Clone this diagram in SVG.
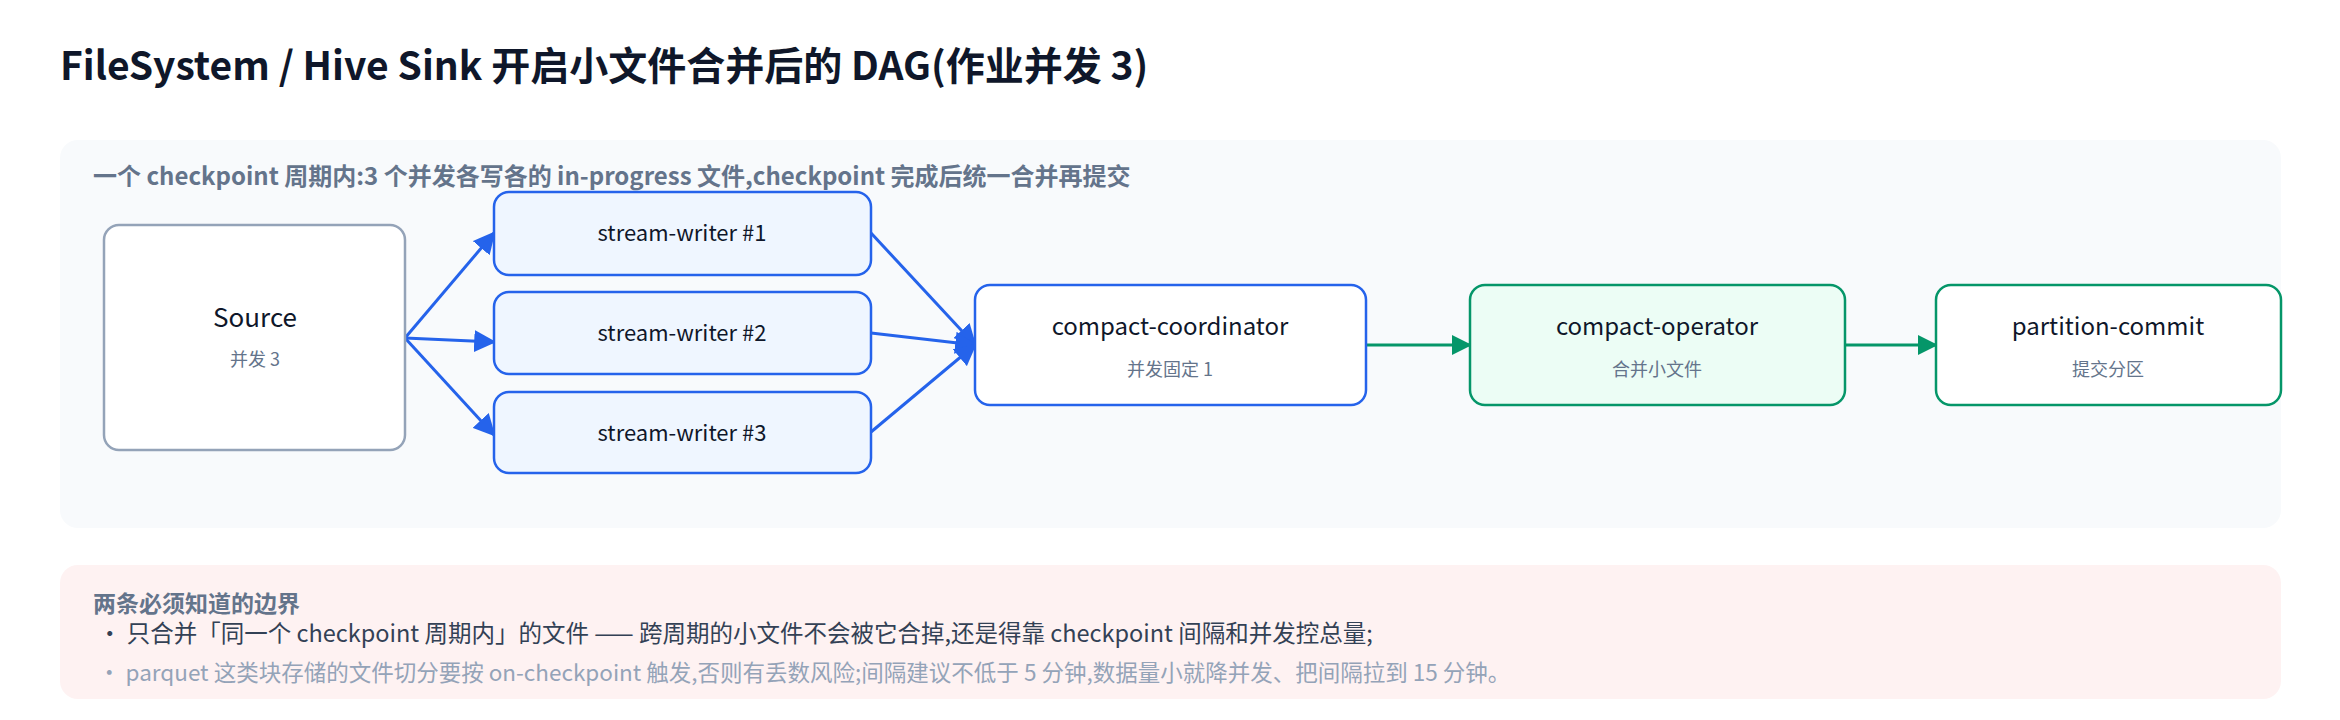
<svg xmlns="http://www.w3.org/2000/svg" width="2340" height="720" viewBox="0 0 2340 720">
<style>
text{font-family:"Noto Sans CJK SC","Noto Sans",sans-serif}
.t{font-size:22px;fill:#0f172a;text-anchor:middle}
.s{font-size:18px;fill:#64748b;text-anchor:middle}
.b{fill:#fff;stroke:#2563eb;stroke-width:2.5}
.w{fill:#eff6ff;stroke:#2563eb;stroke-width:2.5}
.e{stroke:#2563eb;stroke-width:3;fill:none;marker-end:url(#ab)}
.g{stroke:#059669;stroke-width:3;fill:none;marker-end:url(#ag)}
</style>
<defs>
<marker id="ab" viewBox="0 0 10 10" refX="9" refY="5" markerWidth="22" markerHeight="22" orient="auto" markerUnits="userSpaceOnUse"><path d="M0,0L10,5L0,10z" fill="#2563eb"/></marker>
<marker id="ag" viewBox="0 0 10 10" refX="9" refY="5" markerWidth="20" markerHeight="20" orient="auto" markerUnits="userSpaceOnUse"><path d="M0,0L10,5L0,10z" fill="#059669"/></marker>
</defs>
<rect width="2340" height="720" fill="#fff"/>
<text x="60" y="80" font-size="39" font-weight="bold" fill="#0f172a">FileSystem / Hive Sink 开启小文件合并后的 DAG(作业并发 3)</text>
<rect x="60" y="140" width="2221" height="388" rx="18" fill="#f8fafc"/>
<text x="93" y="185" font-size="24" font-weight="bold" fill="#64748b">一个 checkpoint 周期内:3 个并发各写各的 in-progress 文件,checkpoint 完成后统一合并再提交</text>
<g id="connectors">
<path class="e" d="M405,338L494,233"/>
<path class="e" d="M405,338L494,342"/>
<path class="e" d="M405,338L494,435"/>
<path class="e" d="M871,233L975,345"/>
<path class="e" d="M871,333L975,345"/>
<path class="e" d="M871,432L975,345"/>
<path class="g" d="M1366,345L1470,345"/>
<path class="g" d="M1845,345L1936,345"/>
</g>
<g id="source"><rect x="104" y="225" width="301" height="225" rx="15" fill="#fff" stroke="#94a3b8" stroke-width="2.5"/><text class="t" x="255" y="327" style="font-size:26px">Source</text><text class="s" x="255" y="366">并发 3</text></g>
<g id="w1"><rect class="w" x="494" y="192" width="377" height="83" rx="15"/><text class="t" x="682" y="241">stream-writer #1</text></g>
<g id="w2"><rect class="w" x="494" y="292" width="377" height="82" rx="15"/><text class="t" x="682" y="341">stream-writer #2</text></g>
<g id="w3"><rect class="w" x="494" y="392" width="377" height="81" rx="15"/><text class="t" x="682" y="441">stream-writer #3</text></g>
<g id="coord"><rect class="b" x="975" y="285" width="391" height="120" rx="15"/><text class="t" x="1170" y="335" style="font-size:24px">compact-coordinator</text><text class="s" x="1170" y="376">并发固定 1</text></g>
<g id="op"><rect x="1470" y="285" width="375" height="120" rx="15" fill="#ecfdf5" stroke="#059669" stroke-width="2.5"/><text class="t" x="1657" y="335" style="font-size:24px">compact-operator</text><text class="s" x="1657" y="376">合并小文件</text></g>
<g id="commit"><rect x="1936" y="285" width="345" height="120" rx="15" fill="#fff" stroke="#059669" stroke-width="2.5"/><text class="t" x="2108" y="335" style="font-size:24px">partition-commit</text><text class="s" x="2108" y="376">提交分区</text></g>
<rect x="60" y="565" width="2221" height="134" rx="18" fill="#fef2f2"/>
<text x="93" y="612" font-size="23" font-weight="bold" fill="#64748b">两条必须知道的边界</text>
<text x="98" y="642" font-size="23.5" fill="#334155">・ 只合并「同一个 checkpoint 周期内」的文件 —— 跨周期的小文件不会被它合掉,还是得靠 checkpoint 间隔和并发控总量;</text>
<text x="98" y="681" font-size="22.5" fill="#94a3b8">・ parquet 这类块存储的文件切分要按 on-checkpoint 触发,否则有丢数风险;间隔建议不低于 5 分钟,数据量小就降并发、把间隔拉到 15 分钟。</text>
</svg>
